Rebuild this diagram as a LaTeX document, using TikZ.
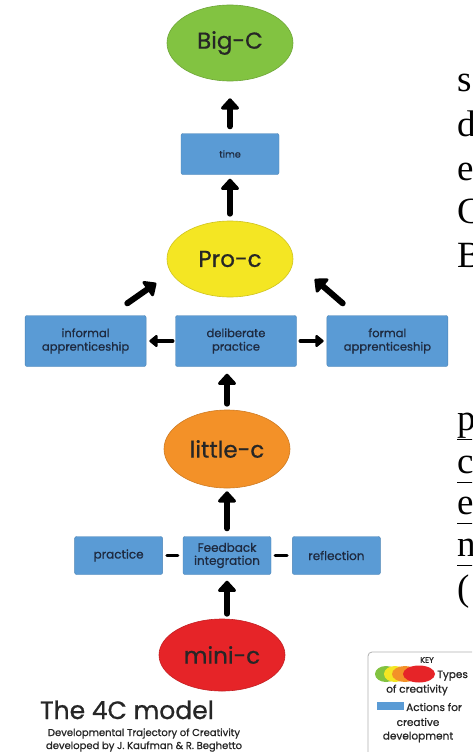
\documentclass[tikz,border=0pt]{standalone}
\usepackage{fontspec}
\newfontfamily\handfont[FakeBold=0.8]{Poppins}
\newfontfamily\pagefont{Liberation Serif}
\usetikzlibrary{positioning, shapes.geometric, arrows.meta}
\definecolor{bigcgreen}{HTML}{82C341}
\definecolor{procyellow}{HTML}{F4E623}
\definecolor{littleorange}{HTML}{F39128}
\definecolor{minired}{HTML}{E62428}
\definecolor{actionblue}{HTML}{5A9BD5}
\definecolor{actiontext}{HTML}{1E2A40}
\newcommand{\webline}[1]{\underline{#1\vphantom{p}}}
\tikzset{
ctype/.style={ellipse, minimum width=126pt, minimum height=76pt, inner sep=0pt, line width=0.6pt, font=\handfont\fontsize{23}{25}\selectfont, text=black!85}, % the four types of creativity
action/.style={rectangle, rounded corners=2pt, fill=actionblue, draw=actionblue!85!black, line width=0.4pt, minimum width=121pt, minimum height=51pt, inner sep=2pt, align=center, font=\handfont\fontsize{11.5}{13.5}\selectfont, text=actiontext}, % actions for creative development
smallaction/.style={action, minimum width=88pt, minimum height=38pt, font=\handfont\fontsize{12}{13}\selectfont}, % lower row of actions
uparrow/.style={-{Triangle[round, width=21pt, length=12pt]}, line width=6pt, line cap=round}, % the big arrows
sidearrow/.style={-{Triangle[round, width=14pt, length=9pt]}, line width=4.5pt, line cap=round}, % the small arrows
linkdash/.style={line width=3pt, line cap=round}, % the dashes between actions
keytext/.style={inner sep=0pt, font=\handfont\fontsize{10.5}{11}\selectfont, text=black!85}, % text in the key
pagetext/.style={inner sep=0pt, font=\pagefont\fontsize{37}{40}\selectfont}, % letters of the page beside the picture
}
\begin{document}
\begin{tikzpicture}[x=1pt, y=-1pt]
    \useasboundingbox (0,0) rectangle (472,752);
    \clip (0,0) rectangle (472,752);
    \fill[white] (0,0) rectangle (472,752);

    % types of creativity and actions
    \node[ctype, fill=bigcgreen, draw=bigcgreen!85!black] (bigc) at (230,43) {Big-C};
    \node[action, minimum width=98pt, minimum height=41pt, font=\handfont\fontsize{9.5}{10}\selectfont, below=52pt of bigc] (time) {time};
    \node[ctype, fill=procyellow, draw=procyellow!85!black, below=46pt of time] (pro) {Pro-c};
    \node[action, below=18pt of pro, xshift=6pt] (delib) {deliberate\\practice};
    \node[action, left=29pt of delib] (informal) {informal\\apprenticeship};
    \node[action, right=30pt of delib] (formal) {formal\\apprenticeship};
    \node[ctype, minimum height=78pt, fill=littleorange, draw=littleorange!85!black, below=43pt of delib, xshift=-9pt] (little) {little-c};
    \node[smallaction, below=48pt of little] (feedback) {Feedback\\integration};
    \node[smallaction, left=20pt of feedback] (practice) {practice};
    \node[smallaction, right=21pt of feedback] (reflection) {reflection};
    \node[ctype, minimum height=72pt, fill=minired, draw=minired!85!black, below=44pt of feedback, xshift=-5pt] (mini) {mini-c};

    % arrows
    \draw[uparrow, shorten <=7pt, shorten >=17pt] (time) -- (bigc);
    \draw[uparrow, shorten <=7pt, shorten >=4pt] (pro) -- (time);
    \draw[uparrow, shorten <=6pt, shorten >=7pt] (little.north) -- (little.north |- delib.south);
    \draw[uparrow, shorten <=8pt, shorten >=3pt] (feedback) -- (little);
    \draw[uparrow, shorten <=5pt, shorten >=6pt] (feedback.south |- mini.north) -- (feedback.south);
    \draw[uparrow] ([xshift=-19pt, yshift=12pt]informal.north east) -- ([xshift=-29pt, yshift=3pt]pro.south west);
    \draw[uparrow] ([xshift=16pt, yshift=12pt]formal.north west) -- ([xshift=40pt, yshift=7pt]pro.south east);
    \draw[sidearrow, shorten <=3pt, shorten >=3pt] (delib) -- (informal);
    \draw[sidearrow, shorten <=4pt, shorten >=3pt] (delib) -- (formal);
    \draw[linkdash, shorten <=4pt, shorten >=5pt] (practice) -- (feedback);
    \draw[linkdash, shorten <=4pt, shorten >=5pt] (feedback) -- (reflection);

    % title
    \node[inner sep=0pt, anchor=base, font=\handfont\fontsize{25}{27}\selectfont, text=black!85] (title) at (127,719) {The 4C model};
    \node[inner sep=0pt, anchor=base, font=\handfont\fontsize{10}{11}\selectfont, text=black!85] (sub1) at (144,736) {Developmental Trajectory of Creativity};
    \node[inner sep=0pt, anchor=base, font=\handfont\fontsize{10}{11}\selectfont, text=black!85] (sub2) at (144,749) {developed by J. Kaufman \& R. Beghetto};

    % key
    \draw[rounded corners=4pt, draw=gray!60, line width=0.8pt] (368,652) rectangle (490,770);
    \node[keytext, font=\handfont\fontsize{8}{9}\selectfont] (key) at (427,660) {KEY};
    \node[ellipse, fill=bigcgreen, minimum width=22pt, minimum height=16pt, inner sep=0pt] (keygreen) at (386,674) {};
    \node[ellipse, fill=procyellow, minimum width=22pt, minimum height=16pt, inner sep=0pt] (keyyellow) at (395,674) {};
    \node[ellipse, fill=littleorange, minimum width=26pt, minimum height=16pt, inner sep=0pt] (keyorange) at (405,674) {};
    \node[ellipse, fill=minired, minimum width=32pt, minimum height=17pt, inner sep=0pt] (keyred) at (419,674) {};
    \node[keytext, anchor=base west] (types) at (437,678) {Types};
    \node[keytext] (ofcreat) at (417,690) {of creativity};
    \node[fill=actionblue, minimum width=27pt, minimum height=8pt, inner sep=0pt] (keyblue) at (390,706) {};
    \node[keytext, anchor=west] (actions) at (406,707) {Actions for};
    \node[keytext] (creative) at (418,722) {creative};
    \node[keytext] (develop) at (418,737) {development};

    % the page text beside the picture
    \node[pagetext, anchor=base west] (topg) at (233,-8) {g};
    \node[pagetext, anchor=base west] (topp) at (389,-7) {p};
    \foreach \ch/\yy in {s/92, d/136, e/180, C/223, B/267}
        \node[pagetext, anchor=base west] (side\yy) at (457,\yy) {\ch};
    \foreach \ch/\yy in {p/430, c/473, e/514, n/556}
        \node[pagetext, anchor=base west] (side\yy) at (457,\yy) {\webline{\ch}};
    \node[pagetext, anchor=base west] (side600) at (457,600) {(};
\end{tikzpicture}
\end{document}
